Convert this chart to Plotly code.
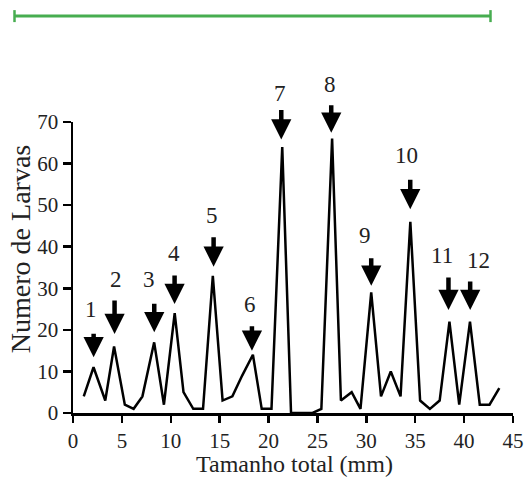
import plotly.graph_objects as go

# ---- data ----
tamanho = [1.1, 2.1, 3.3, 4.2, 5.3, 6.2, 7.1, 8.3, 9.3, 10.4, 11.3, 12.3, 13.3, 14.3,
           15.3, 16.3, 17.3, 18.4, 19.3, 20.3, 21.4, 22.3, 23.4, 24.5, 25.4, 26.5,
           27.4, 28.5, 29.4, 30.5, 31.5, 32.5, 33.5, 34.5, 35.5, 36.5, 37.5, 38.5,
           39.5, 40.6, 41.6, 42.6, 43.6]
larvas = [4, 11, 3, 16, 2, 1, 4, 17, 2, 24, 5, 1, 1, 33,
          3, 4, 9, 14, 1, 1, 64, 0, 0, 0, 1, 66,
          3, 5, 1, 29, 4, 10, 4, 46, 3, 1, 3, 22,
          2, 22, 2, 2, 6]

peak_labels = ["1", "2", "3", "4", "5", "6", "7", "8", "9", "10", "11", "12"]
# arrow tips (data coords) and arrow lengths (px)
arrow_x = [2.11, 4.25, 8.31, 10.39, 14.38, 18.3, 21.3, 26.41, 30.5, 34.49, 38.4, 40.62]
arrow_y = [13.4, 19.0, 19.4, 26.2, 35.2, 15.0, 65.8, 67.4, 30.6, 49.0, 24.8, 24.8]
arrow_len = [25, 35, 30, 30, 31, 26, 31, 29, 29, 31, 34, 30]
# label centres (data coords)
label_x = [1.87, 4.43, 7.73, 10.29, 14.21, 18.06, 21.2, 26.3, 29.9, 34.15, 37.73, 41.47]
label_y = [24.8, 32.0, 32.2, 38.4, 47.6, 26.2, 76.8, 79.0, 42.8, 62.0, 38.0, 36.8]

x_ticks = [0, 5, 10, 15, 20, 25, 30, 35, 40, 45]
y_ticks = [0, 10, 20, 30, 40, 50, 60, 70]

X_RANGE = [0, 45]
Y_RANGE = [0, 70]

FONT = "Liberation Serif, Times New Roman, serif"
TXT = "#222222"

fig = go.Figure()
fig.add_trace(go.Scatter(x=tamanho, y=larvas, mode="lines",
                         line=dict(color="black", width=2.5),
                         showlegend=False, hoverinfo="skip"))


def to_paper_x(v):
    return (v - X_RANGE[0]) / (X_RANGE[1] - X_RANGE[0])


def to_paper_y(v):
    return (v - Y_RANGE[0]) / (Y_RANGE[1] - Y_RANGE[0])


annotations = []
for i, lab in enumerate(peak_labels):
    annotations.append(dict(x=arrow_x[i], y=arrow_y[i], xref="x", yref="y",
                            text="", showarrow=True, ax=0, ay=-arrow_len[i],
                            arrowhead=2, arrowsize=0.9, arrowwidth=4.5,
                            arrowcolor="black", standoff=0))
    annotations.append(dict(x=to_paper_x(label_x[i]), y=to_paper_y(label_y[i]),
                            xref="paper", yref="paper",
                            text=lab, showarrow=False,
                            xanchor="center", yanchor="middle",
                            font=dict(family=FONT, size=23, color=TXT)))

annotations.append(dict(x=0.5045, y=-0.175, xref="paper", yref="paper",
                        text="Tamanho total (mm)", showarrow=False,
                        xanchor="center", yanchor="middle",
                        font=dict(family=FONT, size=24, color=TXT)))
annotations.append(dict(x=-0.1205, y=0.563, xref="paper", yref="paper",
                        text="Numero de Larvas", showarrow=False, textangle=-90,
                        xanchor="center", yanchor="middle",
                        font=dict(family=FONT, size=28, color=TXT)))

GREEN = "#47ad50"
L, T, W, H = 73, 122, 440, 291.3


def px_x(p):
    return (p - L) / W


def px_y(p):
    return (T + H - p) / H


shapes = [
    dict(type="line", xref="paper", yref="paper", x0=px_x(14), x1=px_x(491),
         y0=px_y(16), y1=px_y(16), line=dict(color=GREEN, width=3)),
    dict(type="line", xref="paper", yref="paper", x0=px_x(14.5), x1=px_x(14.5),
         y0=px_y(10), y1=px_y(22), line=dict(color=GREEN, width=2.5)),
    dict(type="line", xref="paper", yref="paper", x0=px_x(490.5), x1=px_x(490.5),
         y0=px_y(10), y1=px_y(22), line=dict(color=GREEN, width=2.5)),
]

fig.update_layout(
    width=528, height=483, autosize=False,
    margin=dict(l=73, r=15, t=122, b=70, autoexpand=False),
    paper_bgcolor="white", plot_bgcolor="white",
    annotations=annotations, shapes=shapes,
    xaxis=dict(range=X_RANGE, tickvals=x_ticks, showgrid=False, zeroline=False,
               showline=True, linecolor="black", linewidth=2.5,
               ticks="outside", ticklen=7, tickwidth=2.5, tickcolor="black",
               automargin=False,
               tickfont=dict(family=FONT, size=21, color=TXT)),
    yaxis=dict(range=Y_RANGE, tickvals=y_ticks, showgrid=False, zeroline=False,
               showline=True, linecolor="black", linewidth=2.5,
               ticks="outside", ticklen=8, tickwidth=2.5, tickcolor="black",
               automargin=False,
               tickfont=dict(family=FONT, size=21, color=TXT)),
)

fig.write_html("out.html",
               config={"responsive": False, "displayModeBar": False,
                       "staticPlot": True},
               post_script="document.body.style.margin='0px';"
                           "document.documentElement.style.overflow='hidden';")
